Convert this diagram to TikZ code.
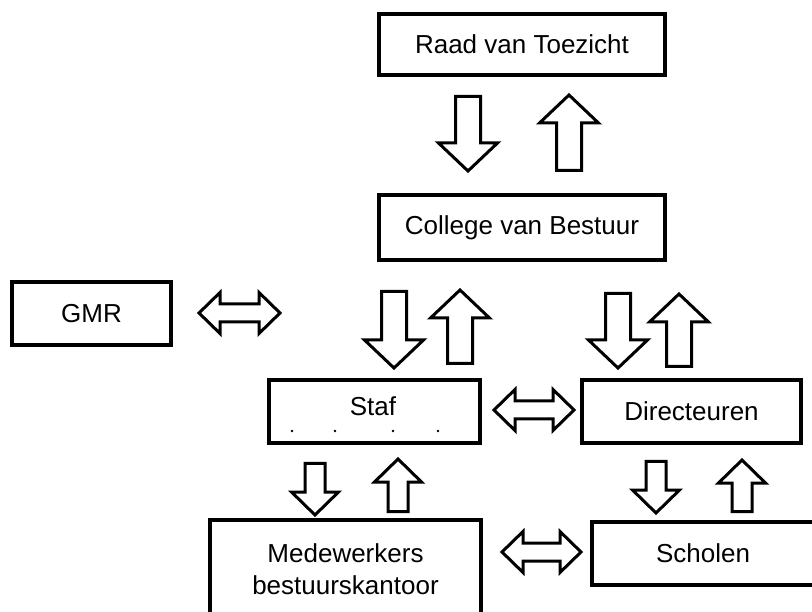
\documentclass[tikz,border=0pt]{standalone}
\usepackage{fontspec}
\setmainfont{Liberation Sans}
\usetikzlibrary{calc}

% blokpijl: start, eind, halve schachtbreedte, halve kopbreedte, koplengte
\newcommand{\blokpijl}[5]{%
	\coordinate (kop) at ($(#2)!#5!(#1)$);
	\draw[pijl] ($(#1)!#3!90:(#2)$) -- ($(kop)!#3!90:(#2)$) -- ($(kop)!#4!90:(#2)$)
		-- (#2) -- ($(kop)!#4!-90:(#2)$) -- ($(kop)!#3!-90:(#2)$) -- ($(#1)!#3!-90:(#2)$) -- cycle;
}
% dubbelpijl: punt links, punt rechts
\newcommand{\dubbelpijl}[2]{%
	\coordinate (kopa) at ($(#1)!21pt!(#2)$);
	\coordinate (kopb) at ($(#2)!21pt!(#1)$);
	\draw[pijl] (#1) -- ($(kopa)!20.5pt!90:(#2)$) -- ($(kopa)!9pt!90:(#2)$)
		-- ($(kopb)!9pt!-90:(#1)$) -- ($(kopb)!20.5pt!-90:(#1)$) -- (#2)
		-- ($(kopb)!20.5pt!90:(#1)$) -- ($(kopb)!9pt!90:(#1)$)
		-- ($(kopa)!9pt!-90:(#2)$) -- ($(kopa)!20.5pt!-90:(#2)$) -- cycle;
}

\begin{document}
\begin{tikzpicture}[
			x=1pt, y=-1pt,
			font=\fontsize{26}{32}\selectfont,
			box/.style={draw, line width=4pt, fill=white, inner sep=0pt, align=center},
			pijl/.style={draw, line width=3pt, fill=white, line join=miter}
			]
			
			\useasboundingbox (0,0) rectangle (812,612);
			\clip (0,0) rectangle (812,612);
			
			% vakken
			\node[box, minimum width=286pt, minimum height=61pt] (raad) at (522,44.5) {Raad van Toezicht};
			\node[box, minimum width=286pt, minimum height=65pt] (cvb) at (522,227.5) {College van Bestuur};
			\node[box, minimum width=159pt, minimum height=63pt] (gmr) at (91.5,313.5) {GMR};
			\node[box, minimum width=211pt, minimum height=63pt] (staf) at (374.5,411.5) {};
			\node (staftekst) at (373,406) {Staf};
			\node[box, minimum width=219pt, minimum height=63pt] (dir) at (691.5,411.5) {Directeuren};
			\node[box, minimum width=271pt, minimum height=98pt] (mw) at (345.5,569) {Medewerkers\\bestuurskantoor};
			\node[box, minimum width=222pt, minimum height=63pt] (scholen) at (703,553.5) {Scholen};
			
			% puntjes in Staf
			\foreach \px in {292,335,393,438}
				\fill (\px,431) circle (1.4pt);
			
			% eindpunten van de pijlen
			\coordinate (p1a) at (468,96.5);  \coordinate (p1b) at (468,171);
			\coordinate (p2a) at (569,170.5); \coordinate (p2b) at (569,95);
			\coordinate (p3a) at (394,291.5); \coordinate (p3b) at (394,368);
			\coordinate (p4a) at (460,363.5); \coordinate (p4b) at (460,290);
			\coordinate (p5a) at (618,293.5); \coordinate (p5b) at (618,368);
			\coordinate (p6a) at (679,366.5); \coordinate (p6b) at (679,294);
			\coordinate (p7a) at (315,463.5); \coordinate (p7b) at (315,515);
			\coordinate (p8a) at (398,511.5); \coordinate (p8b) at (398,459);
			\coordinate (p9a) at (656,461.5); \coordinate (p9b) at (656,513);
			\coordinate (p10a) at (742,511.5); \coordinate (p10b) at (742,460);
			\coordinate (d1a) at (199,313); \coordinate (d1b) at (280,313);
			\coordinate (d2a) at (494,410); \coordinate (d2b) at (574,410);
			\coordinate (d3a) at (502,552); \coordinate (d3b) at (581,552);
			
			% grote pijlen
			\foreach \p in {1,...,6}
				{\blokpijl{p\p a}{p\p b}{12.5pt}{29.5pt}{28pt}}
			% kleine pijlen
			\foreach \p in {7,...,10}
				{\blokpijl{p\p a}{p\p b}{10pt}{23.5pt}{23pt}}
			% dubbele pijlen
			\foreach \p in {1,2,3}
				{\dubbelpijl{d\p a}{d\p b}}
		\end{tikzpicture}
\end{document}
